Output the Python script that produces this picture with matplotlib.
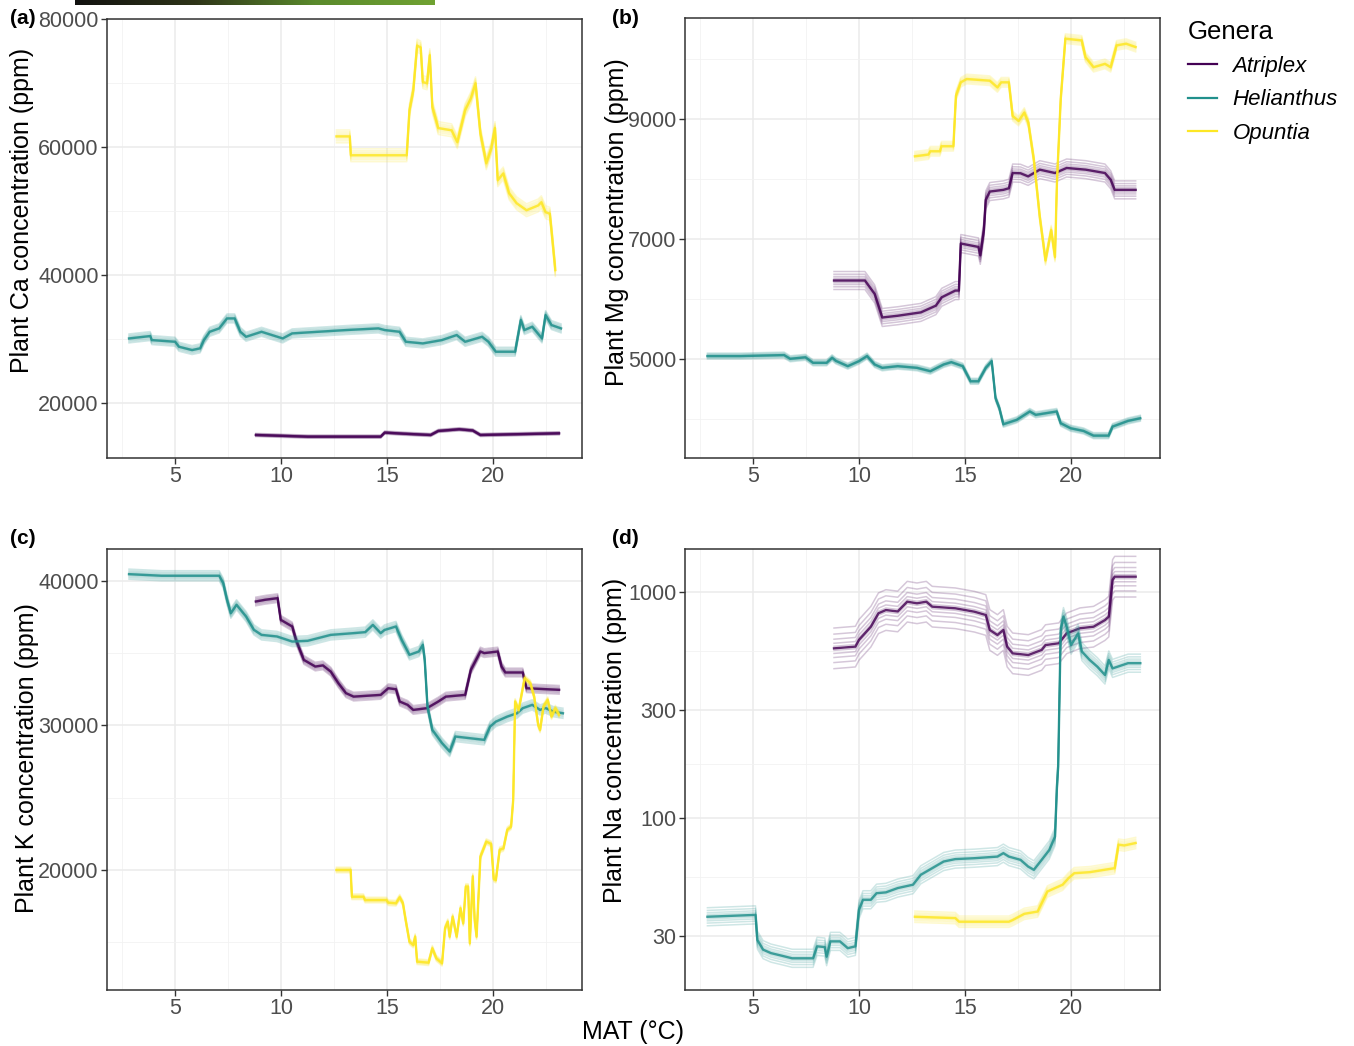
import numpy as np
import matplotlib
matplotlib.use("Agg")
import matplotlib.pyplot as plt
from matplotlib.lines import Line2D
from matplotlib.colors import LinearSegmentedColormap
from matplotlib.ticker import FixedLocator

plt.rcParams['font.family'] = ['Liberation Sans', 'DejaVu Sans']

genera = ['Atriplex', 'Helianthus', 'Opuntia']
colors = {'Atriplex': '#440154', 'Helianthus': '#21908C', 'Opuntia': '#FDE725'}

# ---- (a) Ca ----
ca_atriplex_x = [8.81, 11.26, 14.71, 14.9, 15.8, 17.07, 17.43, 18.42, 19.06, 19.42, 23.14]
ca_atriplex_y = [15000, 14740, 14740, 15370, 15200, 15000, 15630, 15890, 15700, 15000, 15260]
ca_helianthus_x = [2.82, 3.82, 3.9, 5.0, 5.18, 5.8, 6.18, 6.36, 6.63, 7.08, 7.45, 7.81, 8.08, 8.35,
                   9.08, 10.08, 10.53, 13.07, 14.6, 14.9, 15.6, 15.9, 16.7, 17.6, 18.3, 18.7, 19.5,
                   19.8, 20.15, 21.06, 21.33, 21.5, 21.87, 22.33, 22.5, 22.78, 23.23]
ca_helianthus_y = [30100, 30470, 29840, 29580, 28800, 28280, 28550, 29840, 31140, 31670, 33230, 33230,
                   31140, 30360, 31140, 30100, 30890, 31410, 31670, 31410, 31140, 29580, 29320, 29840,
                   30630, 29580, 30360, 29580, 28020, 28020, 32970, 31410, 31930, 30100, 33750, 32190, 31670]
ca_opuntia_x = [12.62, 13.25, 13.3, 15.94, 16.07, 16.25, 16.43, 16.6, 16.7, 16.9, 17.03, 17.15, 17.43,
                18.06, 18.33, 18.7, 18.97, 19.19, 19.42, 19.7, 19.93, 20.11, 20.24, 20.5, 20.78, 21.13,
                21.6, 22.15, 22.3, 22.5, 22.7, 22.78, 22.96]
ca_opuntia_y = [61700, 61700, 58750, 58750, 65800, 68900, 75900, 75600, 70200, 70000, 74400, 66300, 63000,
                62650, 60800, 65800, 67650, 70000, 62200, 57500, 59800, 63000, 54850, 55900, 52800, 51250,
                50150, 50900, 51400, 49850, 49600, 47000, 40800]

# ---- (b) Mg ----
mg_atriplex_x = [8.82, 10.28, 10.74, 11.1, 11.83, 12.92, 13.63, 13.91, 14.55, 14.72, 14.81, 15.64, 15.73,
                 15.9, 15.99, 16.18, 16.82, 17.08, 17.26, 17.63, 17.99, 18.54, 19.26, 19.81, 20.71, 21.62,
                 21.89, 22.08, 23.07]
mg_atriplex_y = [6311, 6311, 6087, 5694, 5723, 5779, 5891, 6031, 6143, 6143, 6928, 6871, 6731,
                 7151, 7655, 7795, 7823, 7850, 8104, 8100, 8048, 8160, 8104, 8188, 8160, 8104,
                 7992, 7823, 7823]
mg_helianthus_x = [2.84, 4.39, 6.46, 6.75, 7.47, 7.83, 8.47, 8.73, 8.91, 9.47, 10.0, 10.38, 10.74, 11.1,
                   11.83, 12.74, 13.37, 14.0, 14.36, 14.9, 15.27, 15.64, 15.99, 16.27, 16.45, 16.63, 16.82,
                   17.45, 18.07, 18.35, 19.34, 19.53, 20.0, 20.61, 21.08, 21.79, 21.98, 22.71, 23.29]
mg_helianthus_y = [5050, 5050, 5067, 5005, 5030, 4938, 4938, 5022, 4970, 4882, 4966, 5050, 4910, 4854,
                   4882, 4854, 4798, 4910, 4949, 4882, 4630, 4630, 4854, 4966, 4350, 4182, 3913,
                   3986, 4126, 4070, 4126, 3930, 3846, 3801, 3723, 3723, 3874, 3969, 4013]
mg_opuntia_x = [12.64, 13.28, 13.37, 13.82, 13.9, 14.46, 14.58, 14.81, 15.09, 16.18, 16.54, 16.72, 17.08,
                17.26, 17.54, 17.81, 18.0, 18.26, 18.54, 18.73, 18.81, 19.08, 19.26, 19.35, 19.53, 19.75,
                20.52, 20.7, 21.08, 21.62, 21.89, 22.17, 22.62, 23.07]
mg_opuntia_y = [8383, 8412, 8467, 8467, 8551, 8551, 9392, 9617, 9672, 9644, 9532, 9617, 9617,
                9056, 8972, 9112, 8944, 8328, 7375, 6870, 6647, 7151, 6703, 7936, 9336, 10345,
                10316, 10037, 9869, 9925, 9869, 10233, 10261, 10205]

# ---- (c) K ----
k_atriplex_x = [8.81, 9.26, 9.84, 9.99, 10.53, 10.71, 10.89, 11.08, 11.62, 11.98, 12.35, 12.71, 13.07,
                13.43, 14.71, 15.07, 15.43, 15.61, 15.98, 16.25, 16.89, 17.43, 17.79, 18.7, 18.97, 19.42,
                19.6, 20.24, 20.42, 20.6, 21.42, 21.6, 23.14]
k_atriplex_y = [38570, 38690, 38800, 37300, 36840, 35920, 35230, 34530, 34070, 34150, 33720, 32920, 32230,
                31990, 32110, 32570, 32500, 31650, 31420, 31070, 31190, 31650, 31990, 32110, 33840, 35110,
                35000, 35110, 34070, 33660, 33660, 32570, 32460]
k_helianthus_x = [2.82, 4.36, 7.08, 7.27, 7.45, 7.63, 7.9, 8.35, 8.72, 9.08, 9.81, 10.53, 11.26, 12.35,
                  13.43, 13.98, 14.34, 14.71, 14.89, 15.43, 15.7, 16.07, 16.51, 16.7, 16.79, 16.92, 17.15,
                  17.61, 17.97, 18.24, 19.6, 19.88, 20.15, 20.69, 21.15, 21.42, 21.87, 22.24, 22.5, 22.87,
                  23.32]
k_helianthus_y = [40460, 40350, 40350, 39840, 38690, 37760, 38340, 37530, 36610, 36260, 36150, 35800, 35850,
                  36260, 36380, 36450, 36950, 36380, 36600, 36840, 35920, 34880, 35110, 35570, 34530, 31300,
                  29690, 28770, 28190, 29230, 29000, 29920, 30260, 30610, 30840, 31190, 31420, 31070, 31200,
                  30950, 30840]
k_opuntia_x = [12.62, 13.29, 13.35, 13.89, 13.98, 14.98, 15.07, 15.43, 15.61, 15.76, 15.89, 16.07, 16.25,
               16.34, 16.43, 16.97, 17.15, 17.34, 17.61, 17.75, 17.88, 17.97, 18.11, 18.3, 18.48, 18.61,
               18.73, 18.84, 18.92, 19.06, 19.15, 19.24, 19.42, 19.7, 19.93, 20.05, 20.15, 20.33, 20.51,
               20.69, 20.87, 20.97, 21.06, 21.23, 21.51, 21.78, 21.96, 22.15, 22.24, 22.4, 22.6, 22.78,
               22.96, 23.14]
k_opuntia_y = [20000, 20000, 18150, 18150, 17920, 17920, 17740, 17700, 18110, 17700, 16540, 15040, 14810,
               15390, 13660, 13590, 14580, 13890, 13550, 15970, 16420, 15390, 16770, 15390, 17350, 16310,
               18850, 18850, 14930, 19560, 16540, 15390, 20920, 21960, 21800, 19380, 19300, 21390, 21500,
               22770, 23000, 24840, 31650, 31070, 33270, 32920, 31990, 30040, 29690, 31300, 31770, 30610,
               31190, 30730]

# ---- (d) Na (log scale) ----
na_atriplex_x = [8.82, 9.83, 10.0, 10.56, 10.92, 11.27, 11.83, 12.28, 12.74, 13.18, 13.46, 14.55, 15.45,
                 15.99, 16.18, 16.54, 16.82, 17.0, 17.26, 18.0, 18.63, 18.81, 19.44, 19.81, 20.44, 21.08,
                 21.62, 21.8, 21.98, 22.08, 23.07]
na_atriplex_y = [563, 573, 614, 702, 805, 832, 820, 906, 891, 906, 861, 847, 818,
                 791, 679, 645, 679, 573, 535, 526, 554, 582, 593, 656, 691, 702,
                 751, 778, 1130, 1169, 1169]
na_helianthus_x = [2.84, 5.11, 5.2, 5.47, 5.84, 6.38, 6.84, 7.83, 8.02, 8.38, 8.47, 8.65, 9.1, 9.47, 9.83,
                   10.0, 10.19, 10.56, 10.83, 11.27, 11.83, 12.55, 12.92, 13.46, 14.0, 14.55, 15.45, 16.54,
                   16.82, 17.08, 17.63, 17.99, 18.26, 18.63, 18.99, 19.26, 19.35, 19.41, 19.53, 19.66,
                   19.81, 20.02, 20.35, 20.53, 20.9, 21.26, 21.62, 21.8, 21.98, 22.71, 23.29]
na_helianthus_y = [36.5, 37.2, 28.8, 26.1, 25.2, 24.5, 23.9, 23.9, 27.0, 26.8, 24.3, 28.4, 28.4, 26.5, 27.0,
                   39.2, 43.4, 43.4, 46.4, 46.8, 48.9, 50.6, 56.0, 59.9, 64.1, 65.7, 66.3, 67.4,
                   69.8, 67.4, 65.2, 60.9, 58.9, 65.2, 72.1, 82.6, 137, 169, 679, 778,
                   702, 582, 656, 545, 500, 467, 429, 500, 459, 484, 484]
na_opuntia_x = [12.64, 14.55, 14.73, 17.08, 17.26, 17.81, 18.44, 18.63, 18.9, 19.26, 19.62, 19.9, 20.17,
                20.9, 22.08, 22.26, 22.53, 23.07]
na_opuntia_y = [36.5, 36.0, 34.7, 34.7, 35.3, 37.6, 38.5, 41.9, 47.2, 48.9, 50.6, 54.1, 56.9,
                57.5, 59.9, 76.1, 75.5, 77.4]

# ensemble spread (half width, ppm or decades for Na)
ca_spread = {'Atriplex': 250, 'Helianthus': 700, 'Opuntia': 1000}
mg_spread = {'Atriplex': 150, 'Helianthus': 50, 'Opuntia': 80}
k_spread = {'Atriplex': 300, 'Helianthus': 350, 'Opuntia': 200}
na_spread = {'Atriplex': 0.09, 'Helianthus': 0.04, 'Opuntia': 0.025}

OFFSETS = [-1, -0.7, -0.45, -0.25, -0.1, 0.1, 0.25, 0.45, 0.7, 1]


def draw_genus(ax, x, y, spread, color, log=False):
    x = np.asarray(x, float)
    y = np.asarray(y, float)
    for k in OFFSETS:
        yy = y * 10 ** (k * spread) if log else y + k * spread
        ax.plot(x, yy, color=color, lw=1.1, alpha=0.22, solid_joinstyle='round')
    ax.plot(x, y, color=color, lw=1.7, alpha=0.85)


def style_ax(ax, yticks, yminor, ylim, log=False):
    ax.set_xlim(1.78, 24.22)
    if log:
        ax.set_yscale('log')
    ax.set_ylim(*ylim)
    ax.xaxis.set_major_locator(FixedLocator([5, 10, 15, 20]))
    ax.xaxis.set_minor_locator(FixedLocator([2.5, 7.5, 12.5, 17.5, 22.5]))
    ax.yaxis.set_major_locator(FixedLocator(yticks))
    ax.yaxis.set_minor_locator(FixedLocator(yminor))
    ax.set_xticklabels(['5', '10', '15', '20'])
    ax.set_yticklabels([str(t) for t in yticks])
    ax.grid(True, which='major', color='#EBEBEB', lw=1.1)
    ax.grid(True, which='minor', color='#F2F2F2', lw=0.6)
    ax.set_axisbelow(True)
    ax.tick_params(which='major', length=4, width=1, color='#333333', labelsize=15.5,
                   labelcolor='#4D4D4D', pad=2)
    ax.tick_params(which='minor', length=0)
    for s in ax.spines.values():
        s.set_color('#333333')
        s.set_linewidth(1.1)


W, H = 1354, 1046
fig = plt.figure(figsize=(W / 100, H / 100), dpi=100)


def add_ax(left, top, right, bottom):
    return fig.add_axes([left / W, 1 - bottom / H, (right - left) / W, (bottom - top) / H])


ax_a = add_ax(107, 19, 582, 458)
ax_b = add_ax(685, 18, 1160, 458)
ax_c = add_ax(107, 549, 582, 990)
ax_d = add_ax(685, 549, 1160, 990)

panels = [
    (ax_a, {'Atriplex': (ca_atriplex_x, ca_atriplex_y), 'Helianthus': (ca_helianthus_x, ca_helianthus_y),
            'Opuntia': (ca_opuntia_x, ca_opuntia_y)}, ca_spread, False),
    (ax_b, {'Atriplex': (mg_atriplex_x, mg_atriplex_y), 'Helianthus': (mg_helianthus_x, mg_helianthus_y),
            'Opuntia': (mg_opuntia_x, mg_opuntia_y)}, mg_spread, False),
    (ax_c, {'Atriplex': (k_atriplex_x, k_atriplex_y), 'Helianthus': (k_helianthus_x, k_helianthus_y),
            'Opuntia': (k_opuntia_x, k_opuntia_y)}, k_spread, False),
    (ax_d, {'Atriplex': (na_atriplex_x, na_atriplex_y), 'Helianthus': (na_helianthus_x, na_helianthus_y),
            'Opuntia': (na_opuntia_x, na_opuntia_y)}, na_spread, True),
]
for ax, data, spread, log in panels:
    for g in genera:
        x, y = data[g]
        draw_genus(ax, x, y, spread[g], colors[g], log=log)

style_ax(ax_a, [20000, 40000, 60000, 80000], [30000, 50000, 70000], (11400, 80060))
style_ax(ax_b, [5000, 7000, 9000], [4000, 6000, 8000, 10000], (3350, 10690))
style_ax(ax_c, [20000, 30000, 40000], [15000, 25000, 35000], (11700, 42200))
style_ax(ax_d, [30, 100, 300, 1000], [54.8, 173, 548], (17.3, 1550), log=True)

ylabels = [
    (ax_a, 'Plant Ca concentration (ppm)', 22, 210, 19, 458),
    (ax_b, 'Plant Mg concentration (ppm)', 617, 222, 18, 458),
    (ax_c, 'Plant K concentration (ppm)', 27, 758, 549, 990),
    (ax_d, 'Plant Na concentration (ppm)', 615, 740, 549, 990),
]
for ax, lab, cx, cy, top, bottom in ylabels:
    left = 107 if ax in (ax_a, ax_c) else 685
    ax.set_ylabel(lab, fontsize=18, color='black', va='center', ha='center')
    ax.yaxis.set_label_coords((cx - left) / 475, (bottom - cy) / (bottom - top))

for lab, px, py in [('(a)', 10, 18), ('(b)', 612, 18), ('(c)', 10, 538), ('(d)', 612, 538)]:
    fig.text(px / W, 1 - py / H, lab, fontsize=15, fontweight='bold', va='center', ha='left')

fig.text(633 / W, 1 - 1032 / H, 'MAT (°C)', fontsize=18, ha='center', va='center')

handles = [Line2D([0], [0], color=colors[g], lw=1.6) for g in genera]
leg = fig.legend(handles, genera, loc='upper left', bbox_to_anchor=(1168 / W, 1 - 0 / H),
                 frameon=False, title='Genera', prop={'style': 'italic', 'size': 16},
                 title_fontsize=18.5, handlelength=1.3, handletextpad=0.7, labelspacing=0.55)
leg._legend_box.align = 'left'

# gradient strip at the very top
cmap = LinearSegmentedColormap.from_list('strip', ['#121210', '#2e3418', '#5a8a2c', '#70a232'])
sax = fig.add_axes([75 / W, 1 - 5 / H, 360 / W, 5 / H])
sax.imshow(np.linspace(0, 1, 256)[None, :], aspect='auto', cmap=cmap)
sax.set_axis_off()

fig.savefig('out.png', dpi=100)
